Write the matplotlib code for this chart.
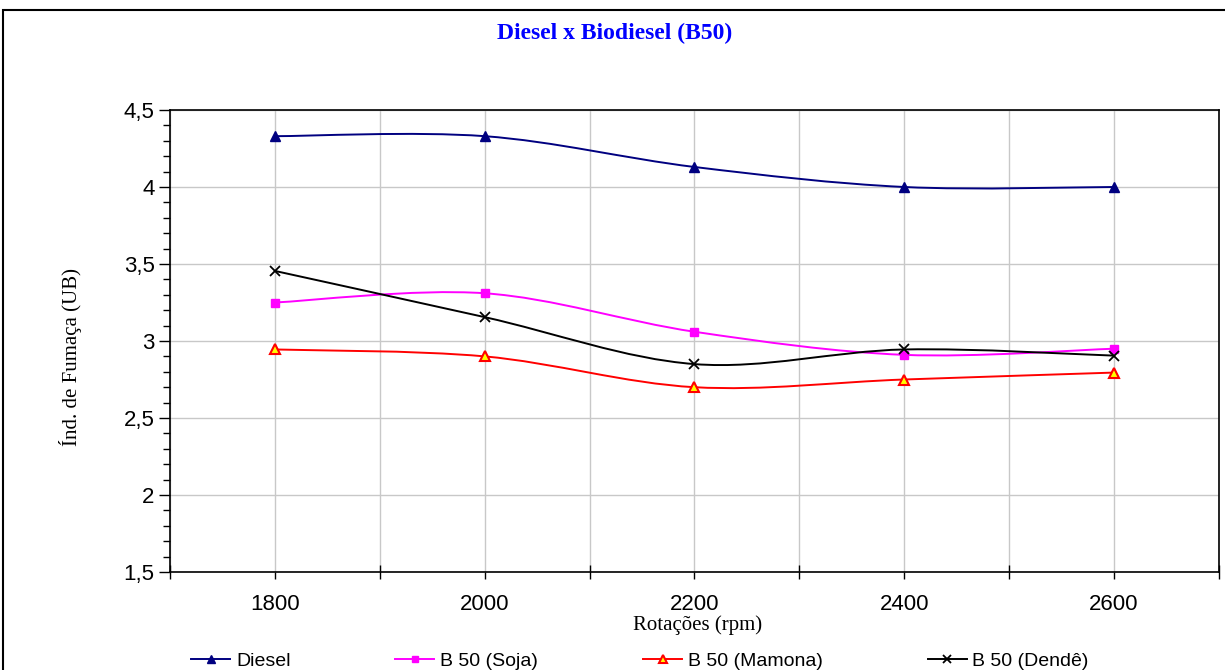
import matplotlib
matplotlib.use('Agg')
import matplotlib.pyplot as plt
from matplotlib.path import Path
from matplotlib.patches import PathPatch, Rectangle
from matplotlib.lines import Line2D
from matplotlib.ticker import MultipleLocator, FixedLocator, FuncFormatter

# data
rpm = [1800, 2000, 2200, 2400, 2600]
diesel = [4.33, 4.33, 4.13, 4.00, 4.00]
soja = [3.25, 3.31, 3.06, 2.91, 2.95]
mamona = [2.945, 2.90, 2.70, 2.75, 2.795]
dende = [3.455, 3.155, 2.85, 2.945, 2.905]
labels = ['Diesel', 'B 50 (Soja)', 'B 50 (Mamona)', 'B 50 (Dendê)']


def smooth_path(xs, ys):
    # excel style smoothed line: catmull-rom turned into bezier segments
    pts = list(zip(xs, ys))
    n = len(pts)
    verts = [pts[0]]
    codes = [Path.MOVETO]
    for i in range(n - 1):
        p0 = pts[i - 1] if i > 0 else pts[i]
        p1 = pts[i]
        p2 = pts[i + 1]
        p3 = pts[i + 2] if i + 2 < n else pts[i + 1]
        c1 = (p1[0] + (p2[0] - p0[0]) / 6, p1[1] + (p2[1] - p0[1]) / 6)
        c2 = (p2[0] - (p3[0] - p1[0]) / 6, p2[1] - (p3[1] - p1[1]) / 6)
        verts += [c1, c2, p2]
        codes += [Path.CURVE4] * 3
    return Path(verts, codes)


fig = plt.figure(figsize=(12.25, 6.7), dpi=100)
ax = fig.add_axes([170/1225, 1-572/670, 1049/1225, 462/670])

styles = [
    dict(color='#000080', marker='^', mfc='#000080', mec='#000080', ms=7),
    dict(color='#FF00FF', marker='s', mfc='#FF00FF', mec='#FF00FF', ms=6),
    dict(color='#FF0000', marker='^', mfc='#FFFF00', mec='#FF0000', ms=7, mew=1.5),
    dict(color='#000000', marker='x', mfc='#000000', mec='#000000', ms=7, mew=1.3),
]
series = [diesel, soja, mamona, dende]

handles = []
for ys, st, lab in zip(series, styles, labels):
    ax.add_patch(PathPatch(smooth_path(rpm, ys), fill=False, edgecolor=st['color'], lw=1.4, zorder=3))
    ax.plot(rpm, ys, linestyle='none', marker=st['marker'], markerfacecolor=st['mfc'],
            markeredgecolor=st['mec'], markersize=st['ms'], markeredgewidth=st.get('mew', 1), zorder=4)
    handles.append(Line2D([], [], color=st['color'], lw=1.4, marker=st['marker'],
                          markerfacecolor=st['mfc'], markeredgecolor=st['mec'],
                          markersize=st['ms'] - 1, markeredgewidth=st.get('mew', 1)))

ax.set_xlim(1700, 2700)
ax.set_ylim(1.5, 4.5)

ax.xaxis.set_major_locator(FixedLocator([1800, 2000, 2200, 2400, 2600]))
ax.xaxis.set_minor_locator(FixedLocator([1700, 1900, 2100, 2300, 2500, 2700]))
ax.yaxis.set_major_locator(MultipleLocator(0.5))
ax.yaxis.set_minor_locator(MultipleLocator(0.1))
ax.yaxis.set_major_formatter(FuncFormatter(lambda v, p: ('%g' % v).replace('.', ',')))

ax.tick_params(axis='x', which='major', direction='out', length=5, width=1, labelsize=16, pad=11)
ax.tick_params(axis='x', which='minor', direction='inout', length=10, width=1)
ax.tick_params(axis='y', which='major', direction='out', length=8, width=1, labelsize=16, pad=3)
ax.tick_params(axis='y', which='minor', direction='out', length=5, width=1)
for lab in ax.get_xticklabels() + ax.get_yticklabels():
    lab.set_family('Liberation Sans')

ax.grid(True, which='major', color='#C8C8C8', lw=1, zorder=0)
ax.grid(True, which='minor', axis='x', color='#C8C8C8', lw=1, zorder=0)
ax.set_axisbelow(True)
for s in ax.spines.values():
    s.set_color('#000000')
    s.set_linewidth(1.2)

fig.text(615/1225, 1-33/670, 'Diesel x Biodiesel (B50)', ha='center', va='center',
         family='Liberation Serif', fontweight='bold', fontsize=17, color='#0000FF')
fig.text(698/1225, 1-625/670, 'Rotações (rpm)', ha='center', va='center',
         family='Liberation Serif', fontsize=15)
fig.text(70/1225, 1-357/670, 'Índ. de Fumaça (UB)', ha='center', va='center', rotation=90,
         family='Liberation Serif', fontsize=15)

# outer chart border
fig.add_artist(Rectangle((3/1225, -0.1), 1.2, 1.1 - 10/670, transform=fig.transFigure,
                         fill=False, edgecolor='#000000', lw=1.5))

fig.legend(handles, labels, loc='center', bbox_to_anchor=(640/1225, 1-661/670), ncol=4,
           frameon=False, prop={'family': 'Liberation Sans', 'size': 14},
           handlelength=2.0, handletextpad=0.3, columnspacing=5.4, borderpad=0)

fig.savefig('out.png', dpi=100)
